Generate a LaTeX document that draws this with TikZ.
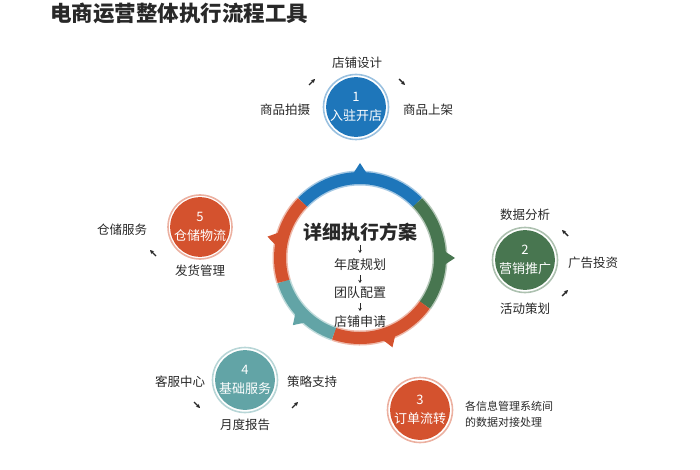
\documentclass[tikz,border=0pt]{standalone}
\usepackage{fontspec}
\setmainfont{Noto Sans CJK SC}
\usetikzlibrary{arrows.meta}
\definecolor{cblue}{RGB}{30,118,186}
\definecolor{cgreen}{RGB}{72,118,80}
\definecolor{cred}{RGB}{212,82,46}
\definecolor{cteal}{RGB}{98,164,166}
\definecolor{ctext}{RGB}{40,40,40}
\begin{document}
\begin{tikzpicture}[x=1pt,y=-1pt,
  lbl/.style={font=\fontsize{12.5}{14}\selectfont, text=ctext, inner sep=1pt},
  small/.style={font=\fontsize{11}{16}\selectfont, text=ctext, inner sep=1pt, align=left},
  mid/.style={font=\fontsize{13}{15}\selectfont, text=ctext, inner sep=1pt},
  circ/.style={circle, fill=#1, minimum size=58pt, inner sep=0pt, text=white, align=center, font=\fontsize{13}{19}\selectfont},
  halo/.style={draw=#1!45, line width=1.6pt},
  sarrow/.style={-{Stealth[length=4pt,width=4pt]}, line width=1.4pt, ctext},
  darrow/.style={-{Stealth[length=3pt,width=3.5pt]}, line width=1pt, ctext},
  seg/.style={line width=12pt, #1},
  seghalo/.style={line width=15pt, #1!40}
]
\useasboundingbox (0,0) rectangle (700,470);
% title
\node[anchor=west, font=\fontsize{21.5}{24}\selectfont\bfseries, text=ctext, inner sep=0pt] (title) at (50,13) {电商运营整体执行流程工具};

% central ring
\coordinate (c) at (360,258);
\foreach \a/\b/\col in {-136/-44/cblue, -44/36/cgreen, 36/109/cred, 109/163/cteal, 163/224/cred}{
  \draw[seghalo=\col] ([shift={(\a:80)}]c) arc[start angle=\a, end angle=\b, radius=80];
}
\foreach \a/\b/\col in {-136/-44/cblue, -44/36/cgreen, 36/109/cred, 109/163/cteal, 163/224/cred}{
  \draw[seg=\col] ([shift={(\a:80)}]c) arc[start angle=\a, end angle=\b, radius=80];
}
% arrow markers on ring (visual angles mirrored)
\foreach \ang/\col in {-90/cblue, 0/cgreen, 70/cred, 135/cteal, -167/cred}{
  \fill[\col] ([shift={(\ang-5:84)}]c) -- ([shift={(\ang:95)}]c) -- ([shift={(\ang+5:84)}]c) -- cycle;
}
% center text
\node[font=\fontsize{19}{22}\selectfont\bfseries, text=ctext, inner sep=1pt] (plan) at (360,232) {详细执行方案};
\node[mid] (p1) at (360,265) {年度规划};
\node[mid] (p2) at (360,293) {团队配置};
\node[mid] (p3) at (360,322) {店铺申请};
\coordinate (d0s) at (360,245); \coordinate (d0e) at (360,253);
\coordinate (d1s) at (360,275); \coordinate (d1e) at (360,283);
\coordinate (d2s) at (360,303); \coordinate (d2e) at (360,311);
\draw[darrow] (d0s) -- (d0e);
\draw[darrow] (d1s) -- (d1e);
\draw[darrow] (d2s) -- (d2e);

% circle 1
\node[circ=cblue] (n1) at (356,107) {1\\入驻开店};
\draw[halo=cblue] (n1.center) circle (32.5);
\node[lbl] (l1a) at (357,63) {店铺设计};
\node[lbl] (l1b) at (285,110) {商品拍摄};
\node[lbl] (l1c) at (428,110) {商品上架};
\coordinate (a1s) at (309,85); \coordinate (a1e) at (315,79);
\draw[sarrow] (a1s) -- (a1e);
\coordinate (a1s2) at (399,79); \coordinate (a1e2) at (405,85);
\draw[sarrow] (a1s2) -- (a1e2);

% circle 2
\node[circ=cgreen] (n2) at (525,260) {2\\营销推广};
\draw[halo=cgreen] (n2.center) circle (32.5);
\node[lbl] (l2a) at (525,215) {数据分析};
\node[lbl] (l2b) at (593,263) {广告投资};
\node[lbl] (l2c) at (525,309) {活动策划};
\coordinate (a2s) at (568,236); \coordinate (a2e) at (562,230);
\draw[sarrow] (a2s) -- (a2e);
\coordinate (a2s2) at (562,296); \coordinate (a2e2) at (568,290);
\draw[sarrow] (a2s2) -- (a2e2);

% circle 3
\node[circ=cred] (n3) at (420,410) {3\\订单流转};
\draw[halo=cred] (n3.center) circle (32.5);
\node[small, anchor=west] (l3) at (464,414) {各信息管理系统间\\的数据对接处理};

% circle 4
\node[circ=cteal] (n4) at (245,380) {4\\基础服务};
\draw[halo=cteal] (n4.center) circle (32.5);
\node[lbl] (l4a) at (180,382) {客服中心};
\node[lbl] (l4b) at (312,382) {策略支持};
\node[lbl] (l4c) at (245,425) {月度报告};
\coordinate (a4s) at (194,402); \coordinate (a4e) at (200,408);
\draw[sarrow] (a4s) -- (a4e);
\coordinate (a4s2) at (292,408); \coordinate (a4e2) at (298,402);
\draw[sarrow] (a4s2) -- (a4e2);

% circle 5
\node[circ=cred] (n5) at (200,227) {5\\仓储物流};
\draw[halo=cred] (n5.center) circle (32);
\node[lbl] (l5a) at (122,230) {仓储服务};
\node[lbl] (l5b) at (200,271) {发货管理};
\coordinate (a5s) at (156,256); \coordinate (a5e) at (150,250);
\draw[sarrow] (a5s) -- (a5e);
\end{tikzpicture}
\end{document}
